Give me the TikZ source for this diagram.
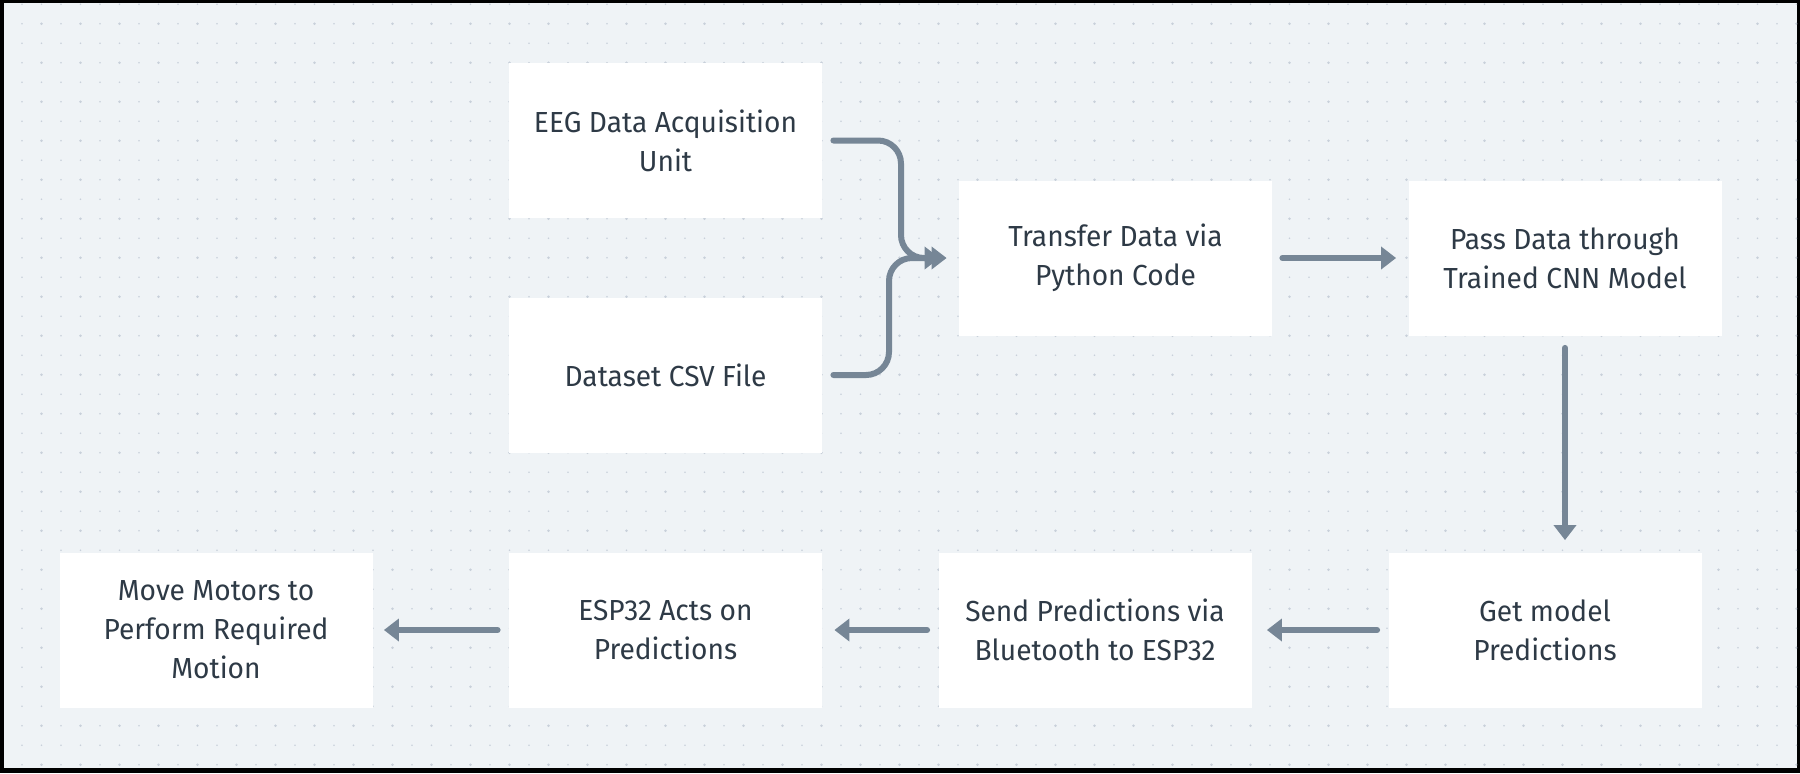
\documentclass[tikz,border=0pt]{standalone}
\usepackage{fontspec}
\setmainfont[FakeStretch=0.97]{Fira Sans}
\usetikzlibrary{arrows.meta}
\definecolor{bg}{RGB}{239,243,246}
\definecolor{dotc}{RGB}{200,208,218}
\definecolor{arr}{RGB}{118,134,150}
\definecolor{txt}{RGB}{46,58,70}
\begin{document}
\begin{tikzpicture}[x=0.5pt,y=-0.5pt,
  box/.style={fill=white, draw=none, minimum width=156.5pt, minimum height=77.5pt,
    align=center, text=txt, font=\fontsize{14.5}{19.5}\selectfont, inner sep=0pt},
  flow/.style={draw=arr, line width=3pt, line cap=round,
    -{Triangle[length=7.5pt,width=11pt]}}]
% background and frame
\fill[black] (0,0) rectangle (1800,773);
\fill[bg] (4,3) rectangle (1797,768);
\useasboundingbox (0,0) rectangle (1800,773);
% dot grid
\begin{scope}
\clip (4,3) rectangle (1797,768);
\foreach \i in {0,...,92}{
  \foreach \j in {0,...,39}{
    \fill[dotc] (2.5+\i*19.5, 4.2+\j*19.5) circle (0.45pt);
  }
}
\foreach \i in {0,...,46}{
  \foreach \j in {0,...,19}{
    \fill[dotc] (2.5+\i*39, 23.7+\j*39) circle (0.7pt);
  }
}
\end{scope}
% boxes
\node[box] (eeg) at (665.5,140.5) {EEG Data Acquisition\\Unit};
\node[box] (csv) at (665.5,375) {Dataset CSV File};
\node[box] (transfer) at (1115.5,258) {Transfer Data via\\Python Code};
\node[box] (pass) at (1565,258) {Pass Data through\\Trained CNN Model};
\node[box] (get) at (1545,630) {Get model\\Predictions};
\node[box] (send) at (1095,630) {Send Predictions via\\Bluetooth to ESP32};
\node[box] (esp) at (665.5,630) {ESP32 Acts on\\Predictions};
\node[box] (move) at (216,630) {Move Motors to\\Perform Required\\Motion};
% merge junction coordinates
\coordinate (j1) at (901,258);
\coordinate (j2) at (889,258);
% connectors
\draw[flow, rounded corners=11.5pt] ([xshift=5.5pt]eeg.east) -| (j1) -- ([xshift=-6pt]transfer.west);
\draw[flow, rounded corners=11.5pt] ([xshift=5.5pt]csv.east) -| (j2) -- ([xshift=-9.5pt]transfer.west);
\draw[flow] ([xshift=5pt]transfer.east) -- ([xshift=-6pt]pass.west);
\draw[flow] ([yshift=-6pt]pass.south) -- ([yshift=6pt]pass.south |- get.north);
\draw[flow] ([xshift=-5.5pt]get.west) -- ([xshift=7.5pt]send.east);
\draw[flow] ([xshift=-5.5pt]send.west) -- ([xshift=6pt]esp.east);
\draw[flow] ([xshift=-5.5pt]esp.west) -- ([xshift=5.5pt]move.east);
\end{tikzpicture}
\end{document}
